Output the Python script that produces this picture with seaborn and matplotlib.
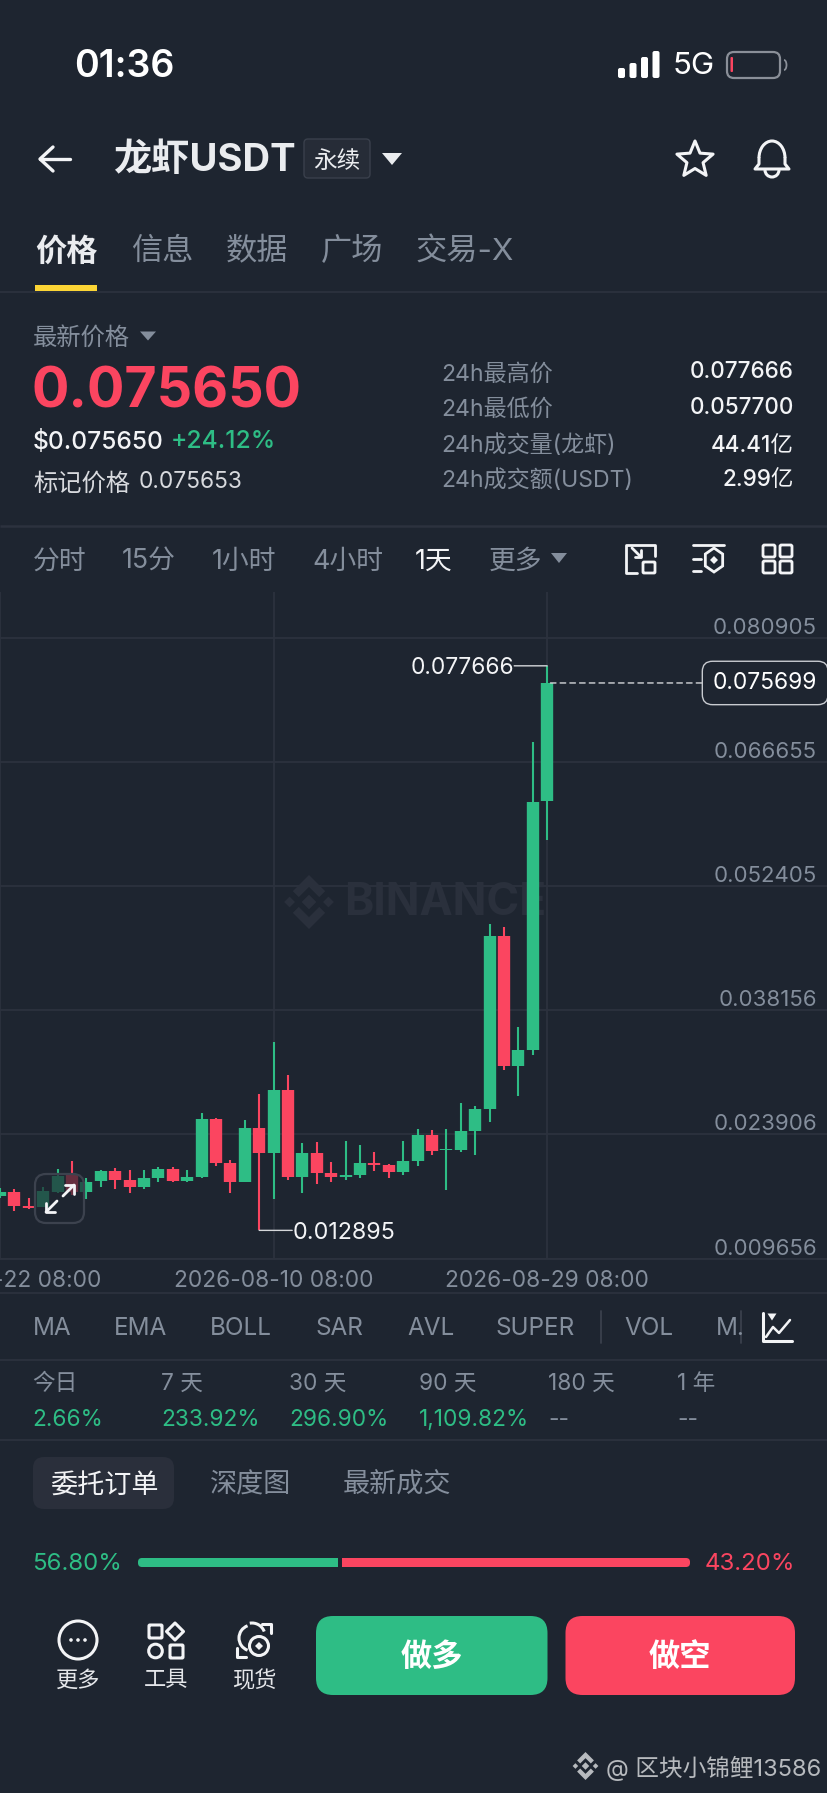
import numpy as np
import pandas as pd
import matplotlib
matplotlib.use("Agg")
import matplotlib.pyplot as plt
import seaborn as sns
from matplotlib.patches import FancyBboxPatch, Polygon, Circle, Rectangle, Arc
from matplotlib.lines import Line2D

# ---------- data ----------
first_day = "2026-07-22 08:00"
opens = [.01687, .017252, .015646, .015608, .017329, .019317, .017329, .018514, .019661, .018629,
         .017864, .018897, .019967, .018591, .019011, .025703, .020656, .018399, .024594, .021803,
         .028954, .01905, .021765, .019508, .019011, .019241, .020656, .02035, .019547, .020847,
         .02383, .02207, .02207, .024288, .026774, .046669, .031707, .03358, .06212]
closes = [.017252, .015684, .015417, .017405, .019164, .017329, .018476, .019661, .018667, .017864,
          .018858, .019967, .018591, .019011, .025703, .020656, .018399, .024594, .021803, .028954,
          .01905, .021765, .019508, .019011, .019241, .020656, .020388, .019547, .020809, .02383,
          .022032, .022262, .024288, .026774, .046669, .031707, .033542, .062077, .075699]
highs = [.017711, .017596, .016564, .017902, .019891, .020809, .018858, .019814, .020006, .019814,
         .019776, .020158, .020197, .019776, .026392, .02578, .020923, .025512, .028495, .03446,
         .030674, .022874, .022988, .020694, .023141, .022644, .021879, .020503, .023141, .024556,
         .024365, .02448, .027462, .027156, .048046, .047736, .036181, .068926, .077666]
lows = [.016564, .015149, .015302, .015608, .017138, .016946, .016449, .017864, .017673, .017138,
        .017673, .018399, .018399, .018399, .018935, .020311, .017176, .018399, .012895, .016526,
        .018629, .017176, .018246, .018476, .018629, .018897, .0197, .018858, .019202, .020311,
        .021535, .017558, .021879, .021535, .025283, .031286, .028304, .033007, .057683]
price_ticks = [0.080905, 0.066655, 0.052405, 0.038156, 0.023906, 0.009656]
date_ticks = ["2026-07-22 08:00", "2026-08-10 08:00", "2026-08-29 08:00"]
last_price = 0.075699

tabs = ["价格", "信息", "数据", "广场", "交易-X"]
stat_labels = ["24h最高价", "24h最低价", "24h成交量(龙虾)", "24h成交额(USDT)"]
stat_values = ["0.077666", "0.057700", "44.41亿", "2.99亿"]
intervals = ["分时", "15分", "1小时", "4小时", "1天", "更多"]
indicators = ["MA", "EMA", "BOLL", "SAR", "AVL", "SUPER", "VOL", "M."]
period_labels = ["今日", "7 天", "30 天", "90 天", "180 天", "1 年"]
period_values = ["2.66%", "233.92%", "296.90%", "1,109.82%", "--", "--"]
book_tabs = ["委托订单", "深度图", "最新成交"]

BG = "#1e2530"
GREEN = "#2ebd85"
RED = "#fb4560"
GREY = "#848e9c"
WHITE = "#f3f4f6"
GRID = "#2c323e"
FAM = ["Inter", "Noto Sans CJK SC", "DejaVu Sans"]

sns.set_theme(style="dark", rc={"figure.facecolor": BG, "axes.facecolor": "none", "savefig.facecolor": BG})
plt.rcParams["font.family"] = FAM

W, H = 828, 1793
fig = plt.figure(figsize=(W / 100, H / 100), dpi=100)
fig.patch.set_facecolor(BG)

# ---------- chart ----------
TOP, BOT = 592, 1258.6
ax = fig.add_axes([0, (H - BOT) / H, 1, (BOT - TOP) / H], zorder=1)
dates = pd.date_range(first_day, periods=len(opens), freq="D")
df = pd.DataFrame({"date": dates, "o": opens, "c": closes, "h": highs, "l": lows})
df["dir"] = np.where(df.c >= df.o, "up", "down")
pal = {"up": GREEN, "down": RED}
wick = pd.concat([df.assign(price=df.h), df.assign(price=df.l)]).sort_values("date")
body = pd.concat([df.assign(price=df.o), df.assign(price=df.c)]).sort_values("date")
common = dict(x="date", y="price", units="date", estimator=None, hue="dir", palette=pal,
              legend=False, solid_capstyle="butt", ax=ax, sort=False)
sns.lineplot(data=wick, linewidth=1.5, zorder=3, **common)
sns.lineplot(data=body, linewidth=8.9, zorder=4, **common)

ax.set_xlim(dates[0], dates[0] + pd.Timedelta(days=57.5))
ax.set_ylim(0.009656, 0.009656 + (BOT - TOP) / 8716)
ax.set_xlabel("")
ax.set_ylabel("")
ax.set_axisbelow(True)
ax.grid(True, color=GRID, linewidth=1.3)
ax.set_xticks(pd.to_datetime(date_ticks))
ax.set_xticklabels(date_ticks, fontsize=16.3, color=GREY)
ax.set_yticks(price_ticks)
ax.set_yticklabels([f"{p:.6f}" for p in price_ticks], fontsize=16, color=GREY, ha="right", va="bottom")
ax.tick_params(axis="y", left=False, right=False, length=0, labelleft=False, labelright=True, pad=-8)
ax.tick_params(axis="x", length=0, pad=8)
for s in ["top", "left", "right"]:
    ax.spines[s].set_visible(False)
ax.spines["bottom"].set_color(GRID)
ax.spines["bottom"].set_linewidth(1.3)


def leader(day, price, dx, ha, size):
    """Label an extreme price with a level leader line running from the candle to the text."""
    ax.annotate("", xy=(day, price), xytext=(dx, 0), textcoords="offset pixels", zorder=6,
                arrowprops=dict(arrowstyle="-", color="#d5d7da", lw=1, shrinkA=0, shrinkB=0))
    ax.annotate(f"{price:.6f}", xy=(day, price), xytext=(dx, 0), textcoords="offset pixels", ha=ha,
                va="center_baseline", color=WHITE, fontsize=size, zorder=6)


leader(dates[int(np.argmax(highs))], max(highs), -33, "right", 16.4)
leader(dates[int(np.argmin(lows))], min(lows), 33, "left", 16.8)
ax.annotate(f"{last_price:.6f}", xy=(dates[-1], last_price), xytext=(765 - 547, 0),
            textcoords="offset pixels", ha="center", va="center", color="white", fontsize=16.4, zorder=7,
            bbox=dict(boxstyle="round,pad=0.47,rounding_size=0.45", fc=BG, ec="#c8cbd0", lw=1),
            arrowprops=dict(arrowstyle="-", color="#d5d7da", lw=1, ls=(0, (4, 3)), shrinkA=0, shrinkB=0,
                            relpos=(0, 0.5)))

# ---------- overlay in pixel coordinates ----------
ui = fig.add_axes([0, 0, 1, 1], zorder=2)
ui.set_xlim(0, W)
ui.set_ylim(H, 0)
ui.axis("off")


def T(x, y, s, size=16, color=GREY, ha="left", weight="normal", **kw):
    dy = 3.5 if not s.isascii() else 1.5
    return ui.text(x, y + dy, s, fontsize=size, color=color, ha=ha, va="center", weight=weight, family=FAM, **kw)


def L(xs, ys, color=WHITE, lw=1.5, **kw):
    kw.setdefault("solid_capstyle", "round")
    ui.add_line(Line2D(xs, ys, color=color, lw=lw, **kw))


def RR(x0, y0, x1, y1, r, fc="none", ec="none", lw=1, **kw):
    ui.add_patch(FancyBboxPatch((x0 + r, y0 + r), x1 - x0 - 2 * r, y1 - y0 - 2 * r,
                                boxstyle=f"round,pad={r},rounding_size={r}", fc=fc, ec=ec, lw=lw, **kw))


def TRI(cx, cy, w, h, color):
    ui.add_patch(Polygon([(cx - w / 2, cy - h / 2), (cx + w / 2, cy - h / 2), (cx, cy + h / 2)], fc=color, ec="none"))


def LOGO(target, cx, cy, s, color, zorder=1):
    """Binance mark: centre and side diamonds with chevrons above and below (s = half size)."""
    d = s * 0.27
    shapes = [[(cx - d, cy), (cx, cy - d), (cx + d, cy), (cx, cy + d)]]
    for sx in (-1, 1):
        c = cx + sx * s * 0.72
        e = s * 0.2
        shapes.append([(c - e, cy), (c, cy - e), (c + e, cy), (c, cy + e)])
    for sy in (-1, 1):
        shapes.append([(cx, cy + sy * s), (cx + s * .6, cy + sy * s * .4), (cx + s * .38, cy + sy * s * .18),
                       (cx, cy + sy * s * .56), (cx - s * .38, cy + sy * s * .18), (cx - s * .6, cy + sy * s * .4)])
    for pts in shapes:
        target.add_patch(Polygon(pts, fc=color, ec="none", transform=ui.transData, zorder=zorder))


# Chart watermark (behind the candles)
wm = "#2a303c"
ax.text(344, 903, "BINANCE", transform=ui.transData, fontsize=32, weight="bold", color=wm, va="center",
        ha="left", family=FAM, zorder=1)
LOGO(ax, 309, 902, 27, wm)

# status bar
T(124, 65.5, "01:36", 27, "white", ha="center", weight="semibold")
for i, h_ in enumerate([10, 15, 21, 27]):
    x = 618 + i * 11.5
    RR(x, 78 - h_, x + 7, 78, 2, fc="white")
T(673, 65, "5G", 22.5, "white")
RR(727, 52, 780, 78, 7, ec="#8a8f98", lw=1.6)
RR(730.5, 57, 733, 72, 1, fc=RED)
ui.add_patch(Arc((784, 65), 5, 10, theta1=-90, theta2=90, color="#8a8f98", lw=1.3))

# nav bar
L([40, 70], [159, 159], WHITE, 2.4)
L([53, 40, 53], [147, 159, 171], WHITE, 2.4, solid_joinstyle="round")
T(113, 158, "龙虾USDT", 27.5, "#eaecef", weight="bold")
RR(304, 139, 370, 178, 4, fc="#262c37", ec="#3a404c", lw=1)
T(337, 158, "永续", 17, "#eaecef", ha="center")
TRI(392, 159, 20, 12, "#eaecef")
ang = np.deg2rad(np.arange(0, 360, 36) - 90)
rad = np.where(np.arange(10) % 2 == 0, 19, 8.5)
ui.add_patch(Polygon(np.c_[695 + rad * np.cos(ang), 160 + rad * np.sin(ang)], fc="none", ec=WHITE, lw=2.2, joinstyle="round"))
ui.add_patch(Arc((772, 158), 26, 34, theta1=180, theta2=360, color=WHITE, lw=2.2))
L([759, 759, 755, 789, 785, 785], [158, 164, 169, 169, 164, 158], WHITE, 2.2)
ui.add_patch(Arc((772, 170), 14, 14, theta1=0, theta2=180, color=WHITE, lw=2.2))

# tabs
for x, s, c in zip([35, 131, 226, 321, 416], tabs, ["#eaecef"] + [GREY] * 4):
    T(x, 248, s, 22.5, c, weight="bold" if c != GREY else "normal")
ui.add_patch(Rectangle((35, 285), 62, 6, fc="#fcd535", ec="none"))
L([0, W], [292, 292], GRID, 1.3, solid_capstyle="butt")

# price block
T(33, 335, "最新价格", 17.5, GREY)
TRI(148, 336, 16, 9, GREY)
T(32, 390.5, "0.075650", 40, RED, weight="bold")
T(33, 440, "$0.075650", 17.7, WHITE, weight="medium")
T(171, 440, "+24.12%", 17.7, GREEN, weight="medium")
T(33, 481, "标记价格", 17.5, "#d8dade")
T(139, 481, "0.075653", 16.4, "#d8dade")
for y, a, b in zip([371, 406, 442, 477], stat_labels, stat_values):
    T(441, y, a, 16.6, GREY)
    T(794, y, b, 16.2, WHITE, ha="right", weight="medium")
L([0, W], [526, 526], GRID, 1.8, solid_capstyle="butt")

# interval row
for x, s in zip([33, 122, 212, 312, 415, 489], intervals):
    T(x, 558, s, 19.3, WHITE if s == "1天" else GREY)
TRI(559, 558, 16, 10, GREY)
# interval icons
L([637, 626, 626, 655, 655], [573, 573, 545, 545, 556], WHITE, 2)
RR(643, 562, 655, 573, 1, fc=BG, ec=WHITE, lw=2)
L([632, 641], [548, 557], WHITE, 2)
L([641, 641, 635], [550, 557, 557], WHITE, 2)
L([693, 724], [545, 545], WHITE, 2)
L([693, 701], [559, 559], WHITE, 2)
L([693, 701], [571, 571], WHITE, 2)
hx = 714 + 10 * np.cos(np.deg2rad(np.arange(0, 360, 60) + 30))
hy = 560 + 12 * np.sin(np.deg2rad(np.arange(0, 360, 60) + 30))
ui.add_patch(Polygon(np.c_[hx, hy], fc="none", ec=WHITE, lw=2))
ui.add_patch(Polygon([(714, 556), (718, 560), (714, 564), (710, 560)], fc=WHITE, ec="none"))
for x0 in (763, 780):
    for y0 in (545, 561):
        RR(x0, y0, x0 + 12, y0 + 12, 1.5, ec=WHITE, lw=2)

# expand button over the candles
RR(35, 1174, 84, 1223, 11, fc=(0.118, 0.145, 0.188, 0.68), ec="#3c424e", lw=1.6)
L([46, 57], [1212, 1201], WHITE, 2)
L([46, 46, 55], [1203, 1212, 1212], WHITE, 2)
L([63, 74], [1196, 1185], WHITE, 2)
L([65, 74, 74], [1185, 1185, 1194], WHITE, 2)

# indicator row
L([0, W], [1293, 1293], GRID, 1.3, solid_capstyle="butt")
for x, s in zip([33, 114, 210, 316, 407, 496, 624, 716], indicators):
    t = T(x, 1327, s, 17.5, GREY)
    t.set_clip_path(Rectangle((0, 1290), 741, 60, transform=ui.transData))
L([601, 601], [1311, 1343], "#3a404c", 1.3)
L([741, 741], [1311, 1343], "#3a404c", 1.3)
L([763, 763, 792], [1313, 1341, 1341], WHITE, 2.2)
L([766, 773, 779, 790], [1337, 1327, 1333, 1320], WHITE, 1.8)
TRI(772, 1317, 9, 7, WHITE)
L([0, W], [1360, 1360], GRID, 1.3, solid_capstyle="butt")

# period row
for x, a, b in zip([32, 161, 289, 419, 548, 677], period_labels, period_values):
    T(x, 1380, a, 16.3, GREY)
    T(x, 1418, b, 16.3, GREEN if b != "--" else GREY)
L([0, W], [1440, 1440], GRID, 1.3, solid_capstyle="butt")

# order book tabs
RR(33, 1457, 174, 1509, 11, fc="#2a2f3b")
T(104, 1482, book_tabs[0], 19.5, WHITE, ha="center", weight="medium")
T(210, 1482, book_tabs[1], 19.5, GREY)
T(343, 1482, book_tabs[2], 19.5, GREY)

# long/short ratio
T(32.5, 1563, "56.80%", 17.3, GREEN)
RR(138, 1558, 338, 1567, 4, fc=GREEN)
ui.add_patch(Rectangle((300, 1558), 38, 9, fc=GREEN, ec="none"))
RR(342, 1558, 690, 1567, 4, fc=RED)
ui.add_patch(Rectangle((342, 1558), 30, 9, fc=RED, ec="none"))
T(795, 1563, "43.20%", 17.3, RED, ha="right")

# bottom actions
ui.add_patch(Circle((78, 1640), 19, fc="none", ec=WHITE, lw=2.2))
for dx in (-7, 0, 7):
    ui.add_patch(Circle((78 + dx, 1640), 1.8, fc=WHITE, ec="none"))
RR(149, 1625, 162, 1638, 1, ec=WHITE, lw=2.2)
ui.add_patch(Polygon([(175, 1623), (183.5, 1631.5), (175, 1640), (166.5, 1631.5)], fc="none", ec=WHITE, lw=2.2, joinstyle="round"))
ui.add_patch(Circle((155.5, 1651), 6.8, fc="none", ec=WHITE, lw=2.2))
RR(170, 1645, 183, 1658, 1, ec=WHITE, lw=2.2)
ui.add_patch(Arc((252, 1638), 26, 26, theta1=110, theta2=250, color=WHITE, lw=2.2))
ui.add_patch(Arc((252, 1636), 26, 26, theta1=260, theta2=340, color=WHITE, lw=2.2))
ui.add_patch(Circle((259, 1646), 9.5, fc=BG, ec=WHITE, lw=2.2))
ui.add_patch(Polygon([(259, 1642), (263, 1646), (259, 1650), (255, 1646)], fc=WHITE, ec="none"))
L([262, 271, 271], [1624, 1624, 1633], WHITE, 2.2)
L([237, 237, 246], [1648, 1657, 1657], WHITE, 2.2)
for x, s in zip([78, 166, 254], ["更多", "工具", "现货"]):
    T(x, 1677, s, 16, "#e4e6e9", ha="center")
RR(316, 1616, 547.5, 1695, 17, fc=GREEN)
RR(565.5, 1616, 795, 1695, 17, fc=RED)
T(432, 1654, "做多", 22.5, "white", ha="center", weight="bold")
T(680, 1654, "做空", 22.5, "white", ha="center", weight="bold")

# footer watermark
LOGO(ui, 585.5, 1766, 14, "#b7babe", zorder=3)
T(606, 1765, "@ 区块小锦鲤13586", 17, "#b7babe")

fig.savefig("out.png", dpi=100, facecolor=BG)
